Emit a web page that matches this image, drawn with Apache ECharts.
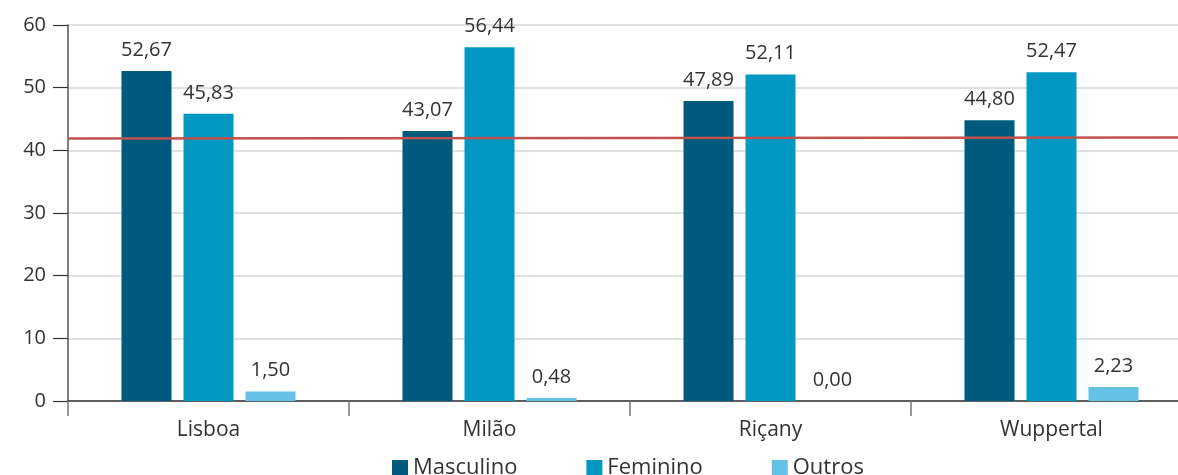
<!DOCTYPE html>
<html>
<head>
<meta charset="utf-8">
<script src="https://cdn.jsdelivr.net/npm/echarts@6/dist/echarts.min.js"></script>
<style>
  html, body { margin: 0; padding: 0; background: #ffffff; overflow: hidden; }
  #chart { width: 1178px; height: 475px; }
</style>
</head>
<body>
<div id="chart"></div>
<script>
// Cities and shares (%) by gender
const cities = ['Lisboa', 'Milão', 'Riçany', 'Wuppertal'];
const masculino = [52.67, 43.07, 47.89, 44.80];
const feminino = [45.83, 56.44, 52.11, 52.47];
const outros = [1.50, 0.48, 0.00, 2.23];
// Reference line: start and end values across the plot
const referenceLine = [[0, 41.9], [1, 42.05]];
const yTicks = { min: 0, max: 60, interval: 10 };

const FONT = '"Open Sans", "Noto Sans", sans-serif';
const fmt = v => v.toFixed(2).replace('.', ',');

const labelStyle = {
  show: true,
  position: 'top',
  distance: 11,
  color: '#333333',
  fontSize: 20,
  fontFamily: FONT,
  formatter: p => fmt(p.value)
};

function barSeries(name, data, color) {
  return {
    name: name,
    type: 'bar',
    data: data,
    barWidth: 50,
    barGap: '24%',
    itemStyle: { color: color },
    label: labelStyle,
    xAxisIndex: 0,
    z: 2
  };
}

const chart = echarts.init(document.getElementById('chart'), null, { renderer: 'canvas' });
chart.setOption({
  animation: false,
  textStyle: { fontFamily: FONT },
  // the last category runs past the right edge of the canvas
  grid: { left: 68, width: 1124, top: 25, height: 376, containLabel: false, outerBoundsMode: 'none' },
  legend: {
    top: 452,
    left: 387,
    itemWidth: 16,
    itemHeight: 16,
    itemGap: 69,
    icon: 'rect',
    textStyle: { fontSize: 22, color: '#333333', fontFamily: FONT },
    data: ['Masculino', 'Feminino', 'Outros']
  },
  xAxis: [
    {
      type: 'category',
      data: cities,
      axisLine: { show: true, lineStyle: { color: '#333333', width: 1.5 } },
      axisTick: { show: true, length: 15, lineStyle: { color: '#777777', width: 1.5 } },
      axisLabel: { color: '#333333', fontSize: 21, margin: 19, fontFamily: FONT },
      splitLine: { show: false }
    },
    {
      type: 'value',
      min: 0,
      max: 1,
      show: false
    }
  ],
  yAxis: {
    type: 'value',
    min: yTicks.min,
    max: yTicks.max,
    interval: yTicks.interval,
    axisLine: { show: true, lineStyle: { color: '#555555', width: 1.5 } },
    axisTick: { show: true, length: 15, lineStyle: { color: '#333333', width: 1.2 } },
    axisLabel: { color: '#333333', fontSize: 20, margin: 22, fontFamily: FONT },
    splitLine: { show: true, lineStyle: { color: '#d6d6d6', width: 1.5 } }
  },
  series: [
    barSeries('Masculino', masculino, '#005a7e'),
    barSeries('Feminino', feminino, '#0397c4'),
    barSeries('Outros', outros, '#66c1e6'),
    {
      name: 'Referência',
      type: 'line',
      xAxisIndex: 1,
      data: referenceLine,
      symbol: 'none',
      lineStyle: { color: '#c0504d', width: 2.5 },
      z: 5,
      silent: true
    }
  ]
});
</script>
</body>
</html>
